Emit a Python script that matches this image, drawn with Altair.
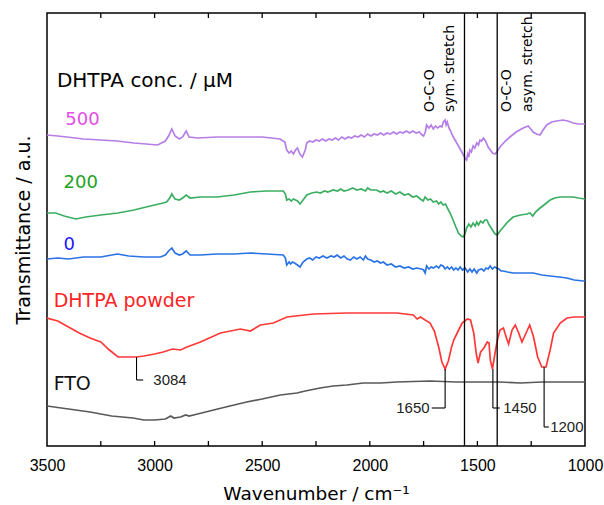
import altair as alt
import pandas as pd

FONT = "Liberation Sans"
WIDE = "DejaVu Sans"

# ---------------- data (wavenumber, transmittance a.u.) ----------------
w500 = [3500, 3450, 3408, 3330, 3250, 3175, 3096, 3040, 2986, 2950, 2935, 2920, 2905, 2885, 2870, 2853, 2840, 2800,
        2710, 2600, 2500, 2417, 2395, 2386, 2375, 2365, 2355, 2345, 2336, 2325, 2313, 2300,
        2293, 2280, 2265, 2250, 2235, 2220, 2205, 2190, 2175, 2160, 2145, 2130, 2115, 2100, 2085, 2070, 2055, 2040,
        2025, 2010, 1995, 1980, 1965, 1950, 1935, 1920, 1905, 1890, 1875, 1860, 1845, 1830, 1815, 1800, 1785, 1770,
        1757, 1750, 1742, 1736, 1725, 1715, 1705, 1695, 1685, 1673, 1665, 1658, 1650, 1645, 1640, 1632, 1627, 1612,
        1596, 1580, 1565, 1555, 1550, 1545, 1540, 1535, 1528, 1520, 1512, 1503, 1495, 1488, 1480, 1472, 1465, 1460,
        1450, 1440, 1430, 1418, 1410, 1395, 1370, 1349, 1320, 1287, 1264, 1252, 1241, 1225, 1209, 1195, 1178, 1155,
        1132, 1103, 1080, 1055, 1030, 1000]
t500 = [311, 310, 309, 307, 306, 305, 303, 302, 301, 305, 310, 317, 310, 307, 309, 315, 309, 308,
        309, 309, 309, 307, 304, 296, 293, 295, 292, 296, 298, 292, 289, 296,
        303, 305, 304, 306, 305, 307, 305, 307, 306, 308, 306, 309, 307, 309, 308, 310, 309, 311,
        309, 312, 310, 312, 311, 313, 311, 313, 312, 314, 312, 314, 313, 315, 313, 315, 313, 314,
        311, 310, 314, 321, 318, 321, 317, 320, 318, 320, 319, 324, 326, 321, 324, 318, 316, 309,
        303, 297, 291, 287, 286, 292, 289, 296, 294, 300, 298, 303, 301, 306, 305, 308, 306, 304,
        299, 296, 293, 292, 294, 299, 305, 309, 314, 318, 320, 317, 314, 312, 311, 316, 321, 324,
        325, 326, 325, 323, 322, 322]

w200 = [3500, 3460, 3420, 3366, 3320, 3250, 3170, 3096, 3020, 2960, 2944, 2930, 2920, 2905, 2885, 2870, 2853, 2835,
        2787, 2710, 2630, 2556, 2480, 2402, 2392, 2386, 2375, 2365, 2355, 2345, 2336, 2324, 2310,
        2293, 2270, 2247, 2230, 2210, 2195, 2170, 2150, 2135, 2120, 2100, 2080, 2060, 2040, 2020, 2010, 1995, 1970,
        1950, 1937, 1920, 1900, 1880, 1860, 1840, 1820, 1800, 1782, 1765, 1752, 1743, 1730, 1718, 1705, 1690, 1680,
        1670, 1659, 1648, 1642, 1627, 1613, 1600, 1588, 1575, 1565, 1558, 1550, 1540, 1530, 1520, 1510, 1503, 1495,
        1485, 1475, 1465, 1456, 1445, 1430, 1418, 1407, 1395, 1379, 1360, 1334, 1300, 1270, 1255, 1243, 1230, 1209,
        1185, 1162, 1140, 1116, 1085, 1055, 1030, 1000]
t200 = [233, 233, 230, 227, 229, 231, 233, 236, 240, 243, 244, 248, 252, 247, 246, 248, 251, 248,
        249, 249, 251, 254, 255, 255, 252, 246, 247, 245, 247, 246, 245, 242, 246,
        251, 253, 254, 253, 255, 254, 256, 255, 257, 255, 256, 258, 256, 257, 255, 258, 256, 256,
        254, 255, 253, 255, 252, 254, 251, 252, 249, 250, 247, 245, 249, 246, 247, 244, 245, 242,
        244, 241, 242, 239, 233, 226, 219, 213, 210, 209, 212, 218, 222, 219, 223, 220, 224, 221,
        225, 223, 226, 226, 221, 216, 212, 211, 215, 219, 224, 229, 231, 232, 233, 230, 234, 238,
        242, 246, 248, 249, 249, 249, 248, 247]

w0 = [3500, 3450, 3400, 3330, 3250, 3173, 3120, 3050, 2973, 2950, 2935, 2920, 2905, 2885, 2870, 2853, 2835, 2787,
      2710, 2630, 2556, 2480, 2402, 2392, 2386, 2375, 2368, 2360, 2350, 2336, 2324, 2310,
      2293, 2280, 2265, 2250, 2235, 2217, 2200, 2180, 2165, 2152, 2135, 2120, 2105, 2090, 2075, 2060, 2045, 2030,
      2020, 2010, 1995, 1980, 1965, 1950, 1937, 1920, 1900, 1880, 1860, 1840, 1820, 1800, 1782, 1760, 1750, 1743,
      1736, 1725, 1715, 1705, 1690, 1680, 1670, 1659, 1650, 1640, 1630, 1620, 1610, 1600, 1590, 1580, 1570, 1557,
      1545, 1535, 1525, 1515, 1503, 1495, 1480, 1470, 1460, 1450, 1441, 1430, 1420, 1410, 1400, 1390, 1380, 1360,
      1334, 1290, 1241, 1200, 1162, 1120, 1085, 1050, 1008, 1000]
t0 = [187, 188, 187, 189, 189, 192, 190, 189, 189, 191, 195, 198, 193, 191, 192, 195, 191, 191,
      192, 192, 193, 192, 191, 188, 181, 184, 182, 184, 183, 181, 179, 184,
      187, 188, 186, 189, 188, 190, 188, 190, 189, 191, 188, 190, 187, 186, 189, 187, 189, 186,
      190, 187, 186, 184, 185, 183, 184, 181, 182, 179, 180, 178, 179, 177, 178, 177, 176, 173,
      180, 177, 179, 178, 180, 178, 181, 180, 177, 179, 177, 179, 176, 178, 176, 179, 176, 178,
      174, 177, 174, 177, 173, 176, 177, 175, 178, 177, 180, 177, 179, 178, 177, 175, 175, 174,
      173, 173, 173, 171, 170, 169, 168, 166, 165, 165]

wpow = [3500, 3450, 3400, 3350, 3300, 3250, 3210, 3170, 3130, 3084, 3050, 3000, 2960, 2917, 2880, 2850, 2787, 2694,
        2601, 2555, 2508, 2448, 2385, 2262, 2107, 1874, 1798, 1780, 1765, 1720, 1700, 1680,
        1665, 1650, 1635, 1620, 1610, 1587, 1571, 1547, 1532, 1517, 1505, 1497, 1485, 1470, 1454, 1446, 1440, 1430,
        1418, 1407, 1395, 1379, 1365, 1355, 1339, 1324, 1308, 1293, 1278, 1257, 1239, 1220, 1201, 1181, 1162, 1146,
        1115, 1084, 1050, 1010, 1000]
tpow = [128, 125, 119, 113, 108, 104, 96, 89, 89, 89, 90, 92, 94, 97, 96, 99, 104, 113,
        117, 115, 121, 123, 129, 132, 133, 133, 131, 127, 129, 123, 115, 99,
        84, 77, 85, 99, 106, 116, 123, 127, 126, 113, 92, 83, 94, 98, 104, 103, 86, 77,
        93, 106, 116, 118, 108, 102, 116, 121, 113, 104, 111, 121, 109, 89, 79, 79, 96, 113,
        123, 128, 129, 129, 129]

wfto = [3500, 3400, 3300, 3200, 3100, 3050, 3000, 2950, 2925, 2910, 2880, 2855, 2840, 2800, 2726, 2650, 2572, 2500,
        2416, 2339, 2300, 2231, 2170, 2107, 2030, 1950, 1874, 1720, 1600, 1500, 1400, 1300, 1200, 1100, 1000]
tfto = [40, 37, 34, 30, 28, 26, 26, 27, 30, 28, 29, 31, 30, 32, 36, 40, 44, 47,
        51, 53, 55, 58, 60, 61, 63, 63, 64, 65, 64, 64, 64, 63, 64, 64, 64]

series_names = ["500", "200", "0", "DHTPA powder", "FTO"]
line_colors = ["#b57ee6", "#3cae62", "#2a73e6", "#ff3838", "#595959"]

# left-hand labels (positions are text baselines)
lab_text = ["DHTPA conc. / μM", "500", "200", "0", "DHTPA powder", "FTO"]
lab_x = [3454, 3415, 3423, 3423, 3469, 3469]
lab_y = [358.7, 321, 257.7, 196, 138.7, 56]
lab_col = ["#000000", "#e24fe6", "#1ea21e", "#1a1aff", "#ff2424", "#111111"]
lab_size = [20, 18, 18, 18, 19, 19]

# reference lines (O-C-O stretches)
ref_lines = [1560, 1408]
rot_text = ["O-C-O", "sym. stretch", "O-C-O", "asym. stretch"]
rot_x = [1720, 1627, 1363, 1265]
rot_y = [334, 334, 334, 334]

# peak annotations
ann_label = ["3084", "1650", "1450", "1200"]
ann_x = [3084, 1650, 1428, 1190]
ann_top = [89, 77, 77, 79]
ann_low = [66, 38, 38, 19]
ann_end = [3053, 1712, 1396, 1168]
ann_tx = [3006, 1722, 1380, 1162]
ann_align = ["left", "right", "left", "left"]

x_labels = [3500, 3000, 2500, 2000, 1500, 1000]
minor_ticks = [3250, 3000, 2750, 2500, 2250, 2000, 1750, 1500, 1250]

# ---------------- build tables ----------------
rows = []
for name, ws, ts in [("500", w500, t500), ("200", w200, t200), ("0", w0, t0),
                     ("DHTPA powder", wpow, tpow), ("FTO", wfto, tfto)]:
    for w, t in zip(ws, ts):
        rows.append({"series": name, "w": w, "t": t})
spec = pd.DataFrame(rows)

labels = pd.DataFrame({"text": lab_text, "w": lab_x, "t": lab_y, "col": lab_col, "size": lab_size})
refs = pd.DataFrame({"w": ref_lines})
rots = pd.DataFrame({"text": rot_text, "w": rot_x, "t": rot_y})
ann = pd.DataFrame({"label": ann_label, "w": ann_x, "top": ann_top, "low": ann_low,
                    "end": ann_end, "tx": ann_tx, "align": ann_align})
ticks = pd.DataFrame({"w": minor_ticks})

H = 433
xscale = alt.Scale(domain=[1000, 3500], reverse=True, nice=False, zero=False)
yscale = alt.Scale(domain=[0, H], nice=False, zero=False)

X = alt.X("w:Q", scale=xscale,
          axis=alt.Axis(values=x_labels, format="d", title="Wavenumber / cm⁻¹",
                        labelFontSize=16, labelFont=FONT, labelColor="black", labelFlush=False,
                        labelPadding=11, ticks=False, domain=False, grid=False,
                        titleFont=WIDE, titleFontSize=18.5, titleFontWeight="normal",
                        titleColor="black", titlePadding=11))
Y = alt.Y("t:Q", scale=yscale,
          axis=alt.Axis(title="Transmittance / a.u.", labels=False, ticks=False, domain=False,
                        grid=False, titleFont=WIDE, titleFontSize=19, titleFontWeight="normal",
                        titleColor="black", titlePadding=14))

lines = alt.Chart(spec).mark_line(strokeWidth=1.7, clip=True).encode(
    x=X, y=Y,
    color=alt.Color("series:N", scale=alt.Scale(domain=series_names, range=line_colors), legend=None),
    detail="series:N",
)

ref_rules = alt.Chart(refs).mark_rule(color="black", strokeWidth=1.3).encode(
    x=alt.X("w:Q", scale=xscale)
)

bottom_ticks = alt.Chart(ticks).mark_rule(color="black", strokeWidth=1.3).encode(
    x=alt.X("w:Q", scale=xscale), y=alt.value(H), y2=alt.value(H - 5)
)
top_ticks = alt.Chart(ticks).mark_rule(color="black", strokeWidth=1.3).encode(
    x=alt.X("w:Q", scale=xscale), y=alt.value(0), y2=alt.value(5)
)

label_text = alt.Chart(labels).mark_text(align="left", baseline="alphabetic", font=WIDE).encode(
    x=alt.X("w:Q", scale=xscale), y=alt.Y("t:Q", scale=yscale),
    text="text:N", color=alt.Color("col:N", scale=None),
    size=alt.Size("size:Q", scale=None),
)

rot_label = alt.Chart(rots).mark_text(align="left", baseline="middle", angle=270, font=WIDE,
                                      fontSize=14, color="black").encode(
    x=alt.X("w:Q", scale=xscale), y=alt.Y("t:Q", scale=yscale), text="text:N"
)

ann_v = alt.Chart(ann).mark_rule(color="black", strokeWidth=1.1).encode(
    x=alt.X("w:Q", scale=xscale), y=alt.Y("top:Q", scale=yscale), y2="low:Q"
)
ann_h = alt.Chart(ann).mark_rule(color="black", strokeWidth=1.1).encode(
    x=alt.X("w:Q", scale=xscale), x2="end:Q", y=alt.Y("low:Q", scale=yscale)
)
ann_left = alt.Chart(ann).transform_filter(alt.datum.align == "left").mark_text(
    align="left", baseline="middle", font=FONT, fontSize=15, color="#222222").encode(
    x=alt.X("tx:Q", scale=xscale), y=alt.Y("low:Q", scale=yscale), text="label:N"
)
ann_right = alt.Chart(ann).transform_filter(alt.datum.align == "right").mark_text(
    align="right", baseline="middle", font=FONT, fontSize=15, color="#222222").encode(
    x=alt.X("tx:Q", scale=xscale), y=alt.Y("low:Q", scale=yscale), text="label:N"
)

chart = alt.layer(
    lines, ref_rules, bottom_ticks, top_ticks, label_text, rot_label, ann_v, ann_h, ann_left, ann_right
).properties(
    width=538, height=H,
    autosize=alt.AutoSizeParams(type="none"),
    padding={"left": 47, "top": 13, "right": 19, "bottom": 59},
    background="white",
).configure_view(stroke="black", strokeWidth=1.5)

chart.save("out.html", embed_options={"renderer": "svg", "actions": False})
